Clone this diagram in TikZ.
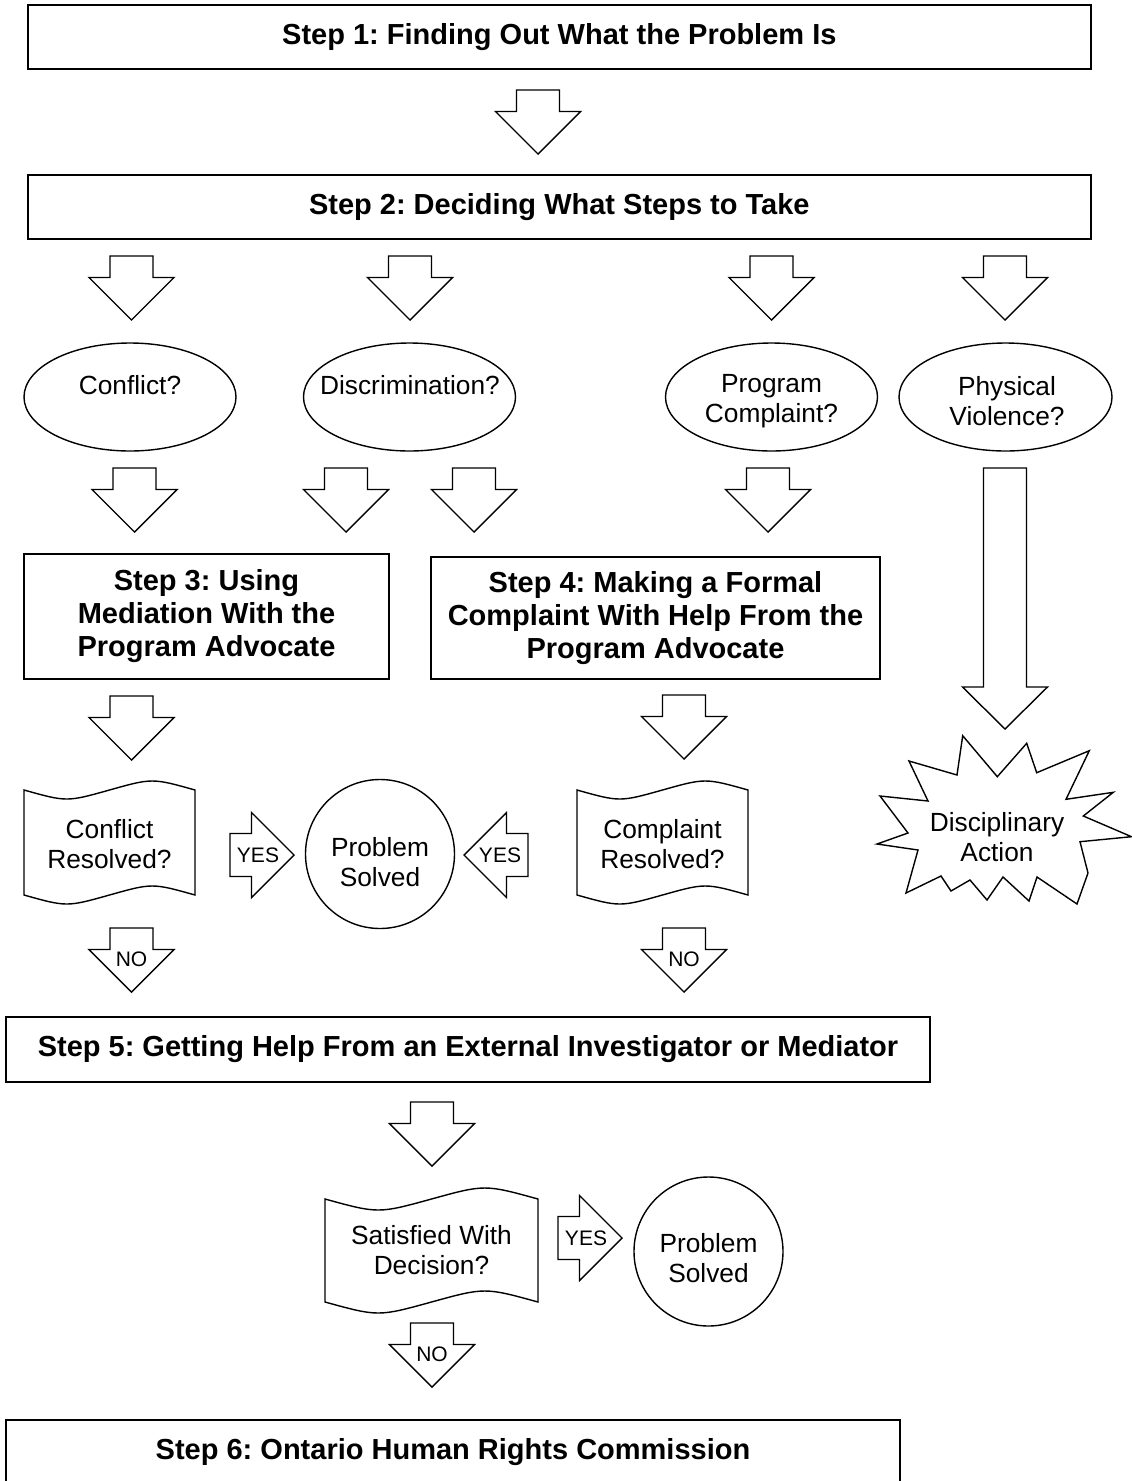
\documentclass[tikz,border=0pt]{standalone}
\usepackage{fontspec}
\setmainfont{Liberation Sans}
\usetikzlibrary{shapes.geometric}
\frenchspacing
\tikzset{
  stepbox/.style={draw, line width=1.8pt, inner sep=0pt, align=center, font=\fontsize{29}{33}\selectfont\bfseries},
  ell/.style={draw, ellipse, line width=1.4pt, inner sep=0pt},
  circ/.style={draw, circle, line width=1.4pt, inner sep=0pt},
  txt/.style={inner sep=0pt, align=center, font=\fontsize{26.3}{30}\selectfont},
  lbl/.style={inner sep=0pt, font=\fontsize{21}{24}\selectfont},
  blk/.style={draw, line width=1.4pt, line join=miter}
}
% down block arrow: name, centre x, top y, label
\newcommand{\darr}[4]{%
  \draw[blk] ({#2-21.5},{#3}) -- ({#2+21.5},{#3}) -- ({#2+21.5},{#3+21.5}) -- ({#2+42.5},{#3+21.5})
    -- ({#2},{#3+64}) -- ({#2-42.5},{#3+21.5}) -- ({#2-21.5},{#3+21.5}) -- cycle;
  \node[lbl] (#1) at ({#2},{#3+31}) {#4};}
% right block arrow: name, left x, centre y, label
\newcommand{\rarr}[4]{%
  \draw[blk] ({#2},{#3-21.5}) -- ({#2+21.5},{#3-21.5}) -- ({#2+21.5},{#3-42.5}) -- ({#2+64},{#3})
    -- ({#2+21.5},{#3+42.5}) -- ({#2+21.5},{#3+21.5}) -- ({#2},{#3+21.5}) -- cycle;
  \node[lbl] (#1) at ({#2+28},{#3}) {#4};}
% left block arrow: name, right x, centre y, label
\newcommand{\larr}[4]{%
  \draw[blk] ({#2},{#3-21.5}) -- ({#2-21.5},{#3-21.5}) -- ({#2-21.5},{#3-42.5}) -- ({#2-64},{#3})
    -- ({#2-21.5},{#3+42.5}) -- ({#2-21.5},{#3+21.5}) -- ({#2},{#3+21.5}) -- cycle;
  \node[lbl] (#1) at ({#2-28},{#3}) {#4};}
% punched tape: left, right, top, bottom, amplitude
\newcommand{\tapeshape}[5]{%
  \draw[blk] ({#1},{#3}) .. controls ({#1+(#2-#1)/4},{#3+4*#5/3}) .. ({(#1+#2)/2},{#3})
    .. controls ({#1+3*(#2-#1)/4},{#3-4*#5/3}) .. ({#2},{#3}) -- ({#2},{#4})
    .. controls ({#1+3*(#2-#1)/4},{#4-4*#5/3}) .. ({(#1+#2)/2},{#4})
    .. controls ({#1+(#2-#1)/4},{#4+4*#5/3}) .. ({#1},{#4}) -- cycle;}
\begin{document}
\begin{tikzpicture}[x=1pt,y=-1pt]
\useasboundingbox (0,0) rectangle (1132,1481);
\clip (0,0) rectangle (1132,1481);

% Step boxes
\node[stepbox, minimum width=1063pt, minimum height=64.6pt] (s1) at (559.3,37) {Step 1: Finding Out What the Problem Is};
\node[stepbox, minimum width=1063pt, minimum height=64pt] (s2) at (559.3,207) {Step 2: Deciding What Steps to Take};
\node[stepbox, minimum width=365pt, minimum height=125pt] (s3) at (206.5,616.5) {Step 3: Using\\Mediation With the\\Program Advocate};
\node[stepbox, minimum width=449pt, minimum height=122pt] (s4) at (655.5,618) {Step 4: Making a Formal\\Complaint With Help From the\\Program Advocate};
\node[stepbox, minimum width=924pt, minimum height=65pt] (s5) at (468,1049.5) {Step 5: Getting Help From an External Investigator or Mediator};
\node[stepbox, minimum width=894pt, minimum height=64pt] (s6) at (453,1452) {Step 6: Ontario Human Rights Commission};

% arrows
\darr{a1}{538}{90}{}
\darr{a21}{131.5}{256}{}
\darr{a22}{410}{256}{}
\darr{a23}{771.5}{256}{}
\darr{a24}{1005}{256}{}
\darr{a31}{134.5}{468}{}
\darr{a32}{346}{468}{}
\darr{a33}{474}{468}{}
\darr{a34}{768}{468}{}
\darr{a41}{131.5}{696}{}
\darr{a42}{684}{695}{}
\darr{no1}{131.5}{928}{NO}
\darr{no2}{684}{928}{NO}
\darr{a5}{432}{1102}{}
\darr{no3}{432}{1323}{NO}
\rarr{yes1}{230}{855}{YES}
\larr{yes2}{528}{855}{YES}
\rarr{yes3}{558}{1238}{YES}

% long arrow to disciplinary action
\draw[blk] (983.5,468) -- (1026.5,468) -- (1026.5,687) -- (1047.5,687) -- (1005,729) -- (962.5,687) -- (983.5,687) -- cycle;

% ellipses
\node[ell, minimum width=212pt, minimum height=108pt] (e1) at (130,397) {};
\node[txt] (e1t) at (130,385) {Conflict?};
\node[ell, minimum width=212pt, minimum height=108pt] (e2) at (409.5,397) {};
\node[txt] (e2t) at (410,385) {Discrimination?};
\node[ell, minimum width=212pt, minimum height=108pt] (e3) at (771.5,397) {};
\node[txt] (e3t) at (771.5,401) {Program\\Complaint?};
\node[ell, minimum width=213pt, minimum height=108pt] (e4) at (1005.5,397) {};
\node[txt] (e4t) at (1007,401) {Physical\\Violence?};

% documents
\tapeshape{24}{195}{790}{895}{9}
\node[txt] (d1) at (109.5,844) {Conflict\\Resolved?};
\tapeshape{577}{748}{790}{895}{9}
\node[txt] (d2) at (662.5,844) {Complaint\\Resolved?};
\tapeshape{325}{538}{1199}{1302}{11}
\node[txt] (d3) at (431.5,1250) {Satisfied With\\Decision?};

% circles
\node[circ, minimum size=149pt] (p1) at (380,854) {};
\node[txt] (p1t) at (380,862) {Problem\\Solved};
\node[circ, minimum size=149pt] (p2) at (708.5,1251.5) {};
\node[txt] (p2t) at (708.5,1258) {Problem\\Solved};

% starburst
\draw[blk] (962.7,735.7) -- (997.3,776.7) -- (1026.7,743.3) -- (1036.7,772.7) -- (1089.3,750.7)
  -- (1066,799.3) -- (1113.3,792.3) -- (1083.3,816) -- (1131.5,836.7) -- (1080,841.7)
  -- (1088,873) -- (1077,904) -- (1037,877) -- (1029,901) -- (1003,877) -- (987,900)
  -- (970,880) -- (951,891) -- (941,876) -- (906,893) -- (918,850) -- (877,844)
  -- (908,833) -- (880,796) -- (928,801) -- (909,761) -- (957,775) -- cycle;
\node[txt] (da) at (997,837) {Disciplinary\\Action};
\end{tikzpicture}
\end{document}
